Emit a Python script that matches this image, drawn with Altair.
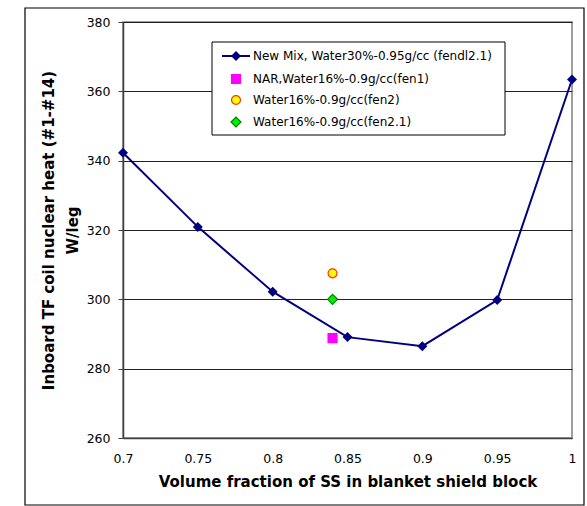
import altair as alt
import pandas as pd

# Main series: volume fraction of SS vs. inboard TF coil nuclear heat
ss_fraction = [0.70, 0.75, 0.80, 0.85, 0.90, 0.95, 1.00]
heat_new_mix = [342.3, 320.9, 302.2, 289.1, 286.5, 299.8, 363.4]

# Single-point comparison cases at 0.84
case_x = [0.84, 0.84, 0.84]
case_heat = [288.8, 307.5, 300.0]
case_labels = [
    "NAR,Water16%-0.9g/cc(fen1)",
    "Water16%-0.9g/cc(fen2)",
    "Water16%-0.9g/cc(fen2.1)",
]
main_label = "New Mix, Water30%-0.95g/cc (fendl2.1)"

y_ticks = [260, 280, 300, 320, 340, 360, 380]
x_ticks = [0.7, 0.75, 0.8, 0.85, 0.9, 0.95, 1.0]

FONT = "DejaVu Sans"
NAVY = "#000080"

main_df = pd.DataFrame({"x": ss_fraction, "y": heat_new_mix})
case_df = pd.DataFrame({"x": case_x, "y": case_heat, "label": case_labels})

xs = alt.Scale(domain=[0.7, 1.0], nice=False)
ys = alt.Scale(domain=[260, 380], nice=False)

x_enc = alt.X(
    "x:Q", scale=xs,
    axis=alt.Axis(
        values=x_ticks, format="~g", grid=False, ticks=False, labelFlush=False,
        title="Volume fraction of SS in blanket shield block",
        labelPadding=14, titlePadding=10,
    ),
)
y_enc = alt.Y(
    "y:Q", scale=ys,
    axis=alt.Axis(
        values=y_ticks, grid=True, tickSize=5, labelFlush=False,
        title=["Inboard TF coil nuclear heat (#1-#14)", "W/leg"],
        labelPadding=8, titlePadding=6,
    ),
)

line = alt.Chart(main_df).mark_line(color=NAVY, strokeWidth=2).encode(x=x_enc, y=y_enc)
pts = alt.Chart(main_df).mark_point(
    shape="diamond", filled=True, color=NAVY, size=100, opacity=1
).encode(x="x:Q", y="y:Q")

case_style = [
    dict(shape="square", fill="#FF00FF", stroke="#FF00FF", size=80),
    dict(shape="circle", fill="#FFFF00", stroke="#FF3300", size=80),
    dict(shape="diamond", fill="#00EE00", stroke="#008000", size=100),
]
case_layers = []
for i, st in enumerate(case_style):
    case_layers.append(
        alt.Chart(case_df.iloc[[i]]).mark_point(
            shape=st["shape"], filled=False, fill=st["fill"], stroke=st["stroke"],
            strokeWidth=1.2, size=st["size"], opacity=1
        ).encode(x="x:Q", y="y:Q")
    )

# Legend box (drawn in plot pixel space)
one = pd.DataFrame({"k": [0]})
legend_box = alt.Chart(one).mark_rect(
    fill="white", stroke="black", strokeWidth=1
).encode(x=alt.value(89), x2=alt.value(382), y=alt.value(20), y2=alt.value(113))

row_y = [34, 57, 78, 100]
legend_layers = [legend_box]
legend_layers.append(
    alt.Chart(one).mark_rule(color=NAVY, strokeWidth=2).encode(
        x=alt.value(99), x2=alt.value(127), y=alt.value(row_y[0]), y2=alt.value(row_y[0])
    )
)
legend_layers.append(
    alt.Chart(one).mark_point(shape="diamond", filled=True, color=NAVY, size=100, opacity=1).encode(
        x=alt.value(113), y=alt.value(row_y[0])
    )
)
for i, st in enumerate(case_style):
    legend_layers.append(
        alt.Chart(one).mark_point(
            shape=st["shape"], filled=False, fill=st["fill"], stroke=st["stroke"],
            strokeWidth=1.2, size=st["size"], opacity=1
        ).encode(x=alt.value(113), y=alt.value(row_y[i + 1]))
    )
for lbl, yy in zip([main_label] + case_labels, row_y):
    legend_layers.append(
        alt.Chart(one).mark_text(
            text=lbl, align="left", baseline="middle", font=FONT, fontSize=12, color="black"
        ).encode(x=alt.value(130), y=alt.value(yy))
    )

# Outer frame around the whole figure
frame = alt.Chart(one).mark_rect(
    fill=None, stroke="black", strokeWidth=1.2, clip=False
).encode(x=alt.value(-98), x2=alt.value(461), y=alt.value(-14), y2=alt.value(483))

chart = alt.layer(
    frame, line, pts, *case_layers, *legend_layers
).properties(
    width=449, height=416,
    padding={"left": 123, "top": 22, "right": 15, "bottom": 68},
    autosize=alt.AutoSizeParams(type="none"),
    background="white",
).configure_view(
    stroke="#808080", strokeWidth=1.5
).configure_axis(
    labelFont=FONT, titleFont=FONT, labelFontSize=12.5, titleFontSize=15,
    labelColor="black", titleColor="black", titleFontWeight="bold",
    domainColor="#404040", domainWidth=1.5, tickColor="#404040",
    gridColor="#202020", gridWidth=1, gridOpacity=1,
).configure_axisY(
    titleLineHeight=24,
)

chart.save("out.html", embed_options={"renderer": "svg", "actions": False})
